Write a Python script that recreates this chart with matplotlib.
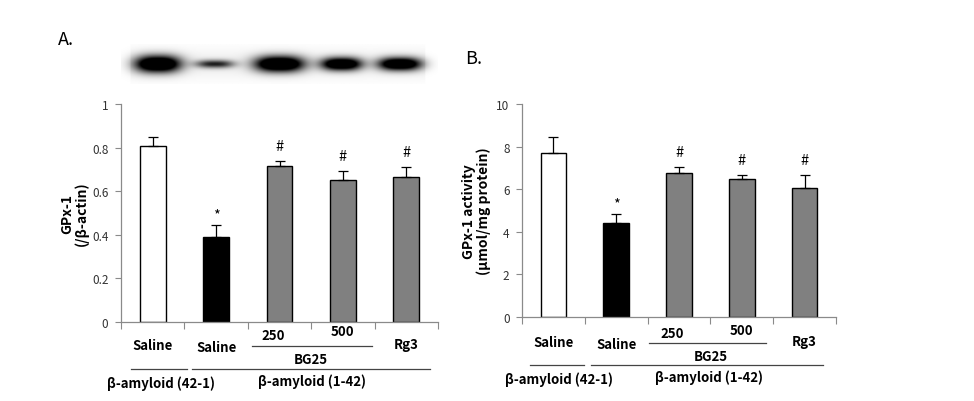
import numpy as np
import matplotlib
matplotlib.use("Agg")
import matplotlib.pyplot as plt
import matplotlib.transforms as mtransforms

plt.rcParams['font.family'] = ['Noto Sans CJK KR', 'DejaVu Sans']

# ---------------- data ----------------
groups = ["Saline", "Saline", "250", "500", "Rg3"]
gpx_protein = [0.809, 0.388, 0.714, 0.650, 0.664]
gpx_protein_err = [0.038, 0.055, 0.023, 0.041, 0.048]
gpx_activity = [7.68, 4.40, 6.75, 6.48, 6.06]
gpx_activity_err = [0.75, 0.42, 0.28, 0.17, 0.60]
signif = ["", "*", "#", "#", "#"]
band_intensity = [1.0, 0.55, 1.0, 0.95, 0.95]

W, H = 974, 402
fig = plt.figure(figsize=(W / 100, H / 100), dpi=100)

bar_colors = ["white", "black", "#808080", "#808080", "#808080"]
spine_col = "#8a8a8a"
LFS = 9.5


def rect(x0, y0, x1, y1):
    return [x0 / W, 1 - y1 / H, (x1 - x0) / W, (y1 - y0) / H]


def draw_panel(ax, vals, errs, ymax, ystep, ylabel, ytick_fmt, label_y, line_pos, ylab_x):
    x = np.arange(len(vals))
    ax.bar(x, vals, width=0.41, color=bar_colors, edgecolor="black", linewidth=1.0, zorder=2)
    ax.errorbar(x, vals, yerr=[np.zeros(len(errs)), errs], fmt="none", ecolor="black",
                elinewidth=0.9, capsize=3.5, capthick=0.9, zorder=3)
    for xi, v, e, s in zip(x, vals, errs, signif):
        if s:
            ax.annotate(s, (xi, v + e), xytext=(0, 11 if s == "#" else 8), textcoords="offset points",
                        ha="center", va="center", fontsize=10.5, color="black")
    ax.set_xlim(-0.5, len(vals) - 0.5)
    ax.set_ylim(0, ymax)
    ticks = np.arange(0, ymax + 1e-9, ystep)
    ax.set_yticks(ticks)
    ax.set_yticklabels([ytick_fmt(t) for t in ticks], fontsize=8.5, color="#333333")
    ax.set_xticks(np.arange(-0.5, len(vals), 1.0))
    ax.set_xticklabels([])
    for sp in ["top", "right"]:
        ax.spines[sp].set_visible(False)
    for sp in ["left", "bottom"]:
        ax.spines[sp].set_color(spine_col)
        ax.spines[sp].set_linewidth(0.9)
    ax.tick_params(axis="y", direction="out", length=4, color=spine_col, pad=5)
    ax.tick_params(axis="x", direction="out", length=5, color=spine_col)
    ax.set_ylabel(ylabel, fontsize=10, fontweight="bold", linespacing=1.0)
    ax.yaxis.set_label_coords(ylab_x, 0.5, transform=mtransforms.blended_transform_factory(
        fig.transFigure, ax.transAxes))

    tr = mtransforms.blended_transform_factory(ax.transData, fig.transFigure)

    def fy(py):
        return 1 - py / H

    ly = label_y
    ax.text(0, fy(ly["s1"]), groups[0], transform=tr, ha="center", va="center", fontsize=LFS, fontweight="bold")
    ax.text(1, fy(ly["s2"]), groups[1], transform=tr, ha="center", va="center", fontsize=LFS, fontweight="bold")
    ax.text(1.9, fy(ly["d1"]), groups[2], transform=tr, ha="center", va="center", fontsize=LFS, fontweight="bold")
    ax.text(3.0, fy(ly["d2"]), groups[3], transform=tr, ha="center", va="center", fontsize=LFS, fontweight="bold")
    ax.text(2.5, fy(ly["bg"]), "BG25", transform=tr, ha="center", va="center", fontsize=LFS, fontweight="bold")
    ax.text(4.0, fy(ly["rg"]), groups[4], transform=tr, ha="center", va="center", fontsize=LFS, fontweight="bold")
    lp = line_pos
    for key in ["bg", "a1", "a2"]:
        ax.plot(lp[key][:2], [fy(lp[key][2])] * 2, transform=tr, color="#444444", lw=0.9, clip_on=False)
    ax.text(lp["t1"][0], fy(lp["t1"][1]), "β-amyloid (42-1)", transform=tr, ha="left", va="center",
            fontsize=LFS, fontweight="bold")
    ax.text(lp["t2"][0], fy(lp["t2"][1]), "β-amyloid (1-42)", transform=tr, ha="left", va="center",
            fontsize=LFS, fontweight="bold")


# Panel A
axA = fig.add_axes(rect(121, 105, 438, 323))
draw_panel(axA, gpx_protein, gpx_protein_err, 1.0, 0.2, "GPx-1\n(/β-actin)",
           lambda t: "0" if t == 0 else ("1" if abs(t - 1) < 1e-9 else f"{t:.1f}"),
           dict(s1=346, s2=348, d1=336, d2=332, bg=360, rg=345),
           dict(bg=(1.57, 3.46, 347), a1=(-0.34, 0.54, 370), a2=(0.62, 4.37, 370),
                t1=(-0.72, 384), t2=(1.66, 382)),
           89 / W)

# Panel B
axB = fig.add_axes(rect(522, 105, 836, 318))
draw_panel(axB, gpx_activity, gpx_activity_err, 10, 2, "GPx-1 activity\n(μmol/mg protein)",
           lambda t: f"{int(t)}",
           dict(s1=343, s2=345, d1=334, d2=331, bg=357, rg=342),
           dict(bg=(1.52, 3.39, 344), a1=(-0.37, 0.49, 366), a2=(0.60, 4.29, 366),
                t1=(-0.77, 380), t2=(1.62, 378)),
           491 / W)

# Western blot image
axW = fig.add_axes(rect(121, 45, 438, 85))
gx = np.linspace(-0.5, 4.5, 700)
gy = np.linspace(0, 40, 90)
GX, GY = np.meshgrid(gx, gy)
band_x = [0.08, 0.98, 2.0, 2.98, 3.9]
band_w = [0.36, 0.30, 0.39, 0.32, 0.34]
band_h = [8.5, 4.0, 8.0, 6.5, 6.5]
dark = np.zeros_like(GX)
for cx, bw, bh, inten in zip(band_x, band_w, band_h, band_intensity):
    dark += inten * 1.5 * np.exp(-np.abs((GX - cx) / bw) ** 2.6 - np.abs((GY - 20) / bh) ** 2.0)
halo = 0.07 * np.exp(-np.abs((GY - 20) / 14) ** 2) * ((GX > -0.35) & (GX < 4.3))
dark = np.clip(dark + halo, 0, 1)
axW.imshow(dark, cmap="gray_r", vmin=0, vmax=1, aspect="auto",
           extent=[-0.5, 4.5, 40, 0], interpolation="bilinear")
axW.set_xlim(-0.5, 4.5)
axW.axis("off")

fig.text(58 / W, 1 - 40 / H, "A.", fontsize=13, ha="left", va="center")
fig.text(465 / W, 1 - 59 / H, "B.", fontsize=13, ha="left", va="center")

fig.savefig("out.png", dpi=100, facecolor="white")
